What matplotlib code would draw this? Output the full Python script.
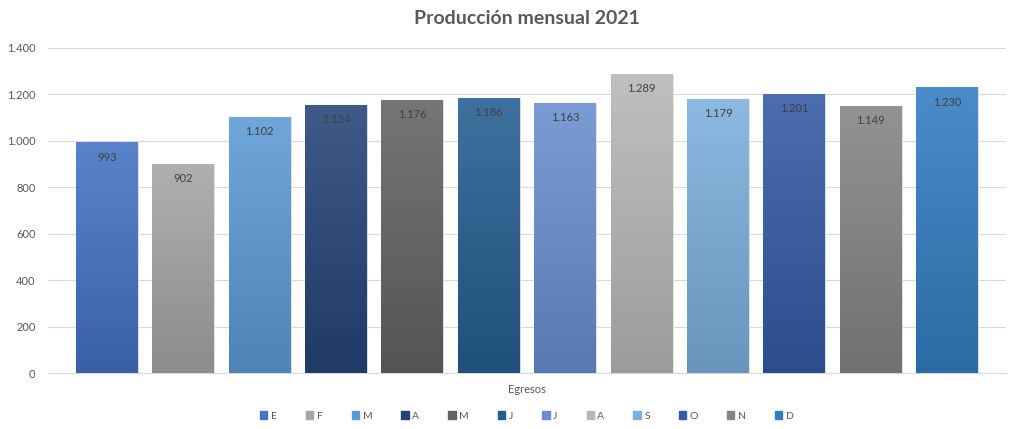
import numpy as np
import matplotlib
matplotlib.use("Agg")
import matplotlib.pyplot as plt
from matplotlib.colors import to_rgb, LinearSegmentedColormap

months = ["E", "F", "M", "A", "M", "J", "J", "A", "S", "O", "N", "D"]
values = [993, 902, 1102, 1154, 1176, 1186, 1163, 1289, 1179, 1201, 1149, 1230]
colors = ["#4472C4", "#A5A5A5", "#5B9BD5", "#264478", "#636363", "#255E91",
          "#698ED0", "#B7B7B7", "#7CAFDD", "#335AA6", "#848484", "#327DC2"]
category = "Egresos"
yticks = [0, 200, 400, 600, 800, 1000, 1200, 1400]
ytick_labels = ["0", "200", "400", "600", "800", "1.000", "1.200", "1.400"]


def fmt(v):
    return f"{v:,}".replace(",", ".")


def shade(c, f):
    c = np.array(to_rgb(c))
    if f > 0:
        return tuple(c + (1 - c) * f)
    return tuple(c * (1 + f))


plt.rcParams["font.family"] = ["Lato", "DejaVu Sans"]

fig = plt.figure(figsize=(10.09, 4.29), dpi=100)
ax = fig.add_axes([48 / 1009, 1 - 373 / 429, 958 / 1009, 325 / 429])

x = np.arange(len(months))
bars = ax.bar(x, values, width=0.81, color=colors, label=months,
              edgecolor="#e6e6e6", linewidth=0.6, zorder=2)

# vertical gradient inside each bar, lighter at the top
grad = np.linspace(1, 0, 256).reshape(-1, 1)
for b, c in zip(bars, colors):
    cmap = LinearSegmentedColormap.from_list("g", [shade(c, -0.15), shade(c, 0.12)])
    im = ax.imshow(grad, cmap=cmap, aspect="auto", zorder=3,
                   extent=[b.get_x(), b.get_x() + b.get_width(), 0, b.get_height()])
    im.set_clip_path(b)

for xi, v in zip(x, values):
    ax.annotate(fmt(v), (xi, v), xytext=(0, -10.5), textcoords="offset points",
                ha="center", va="center", fontsize=8, color="#404040", zorder=4)

ax.set_xlim(-0.77, 11.77)
ax.set_ylim(0, 1400)
ax.set_yticks(yticks)
ax.set_yticklabels(ytick_labels)
ax.set_xticks([5.5])
ax.set_xticklabels([category])
ax.tick_params(axis="both", length=0, labelsize=8, colors="#595959")
ax.tick_params(axis="y", pad=9)
ax.tick_params(axis="x", pad=8)
ax.grid(axis="y", color="#d9d9d9", linewidth=0.8, zorder=0)
ax.set_axisbelow(True)
for s in ["top", "right", "left"]:
    ax.spines[s].set_visible(False)
ax.spines["bottom"].set_color("#d9d9d9")
ax.spines["bottom"].set_linewidth(0.8)

fig.text(527 / 1009, 1 - 18 / 429, "Producción mensual 2021", ha="center", va="center",
         fontsize=14, fontweight="bold", color="#595959")

handles = [plt.Rectangle((0, 0), 1, 1, color=c) for c in colors]
fig.legend(handles, months, loc="center", bbox_to_anchor=(527 / 1009, 1 - 416 / 429),
           ncol=12, frameon=False, fontsize=7.5, labelcolor="#595959",
           handlelength=0.7, handleheight=0.7, handletextpad=0.35, columnspacing=2.78)

fig.savefig("out.png", dpi=100)
